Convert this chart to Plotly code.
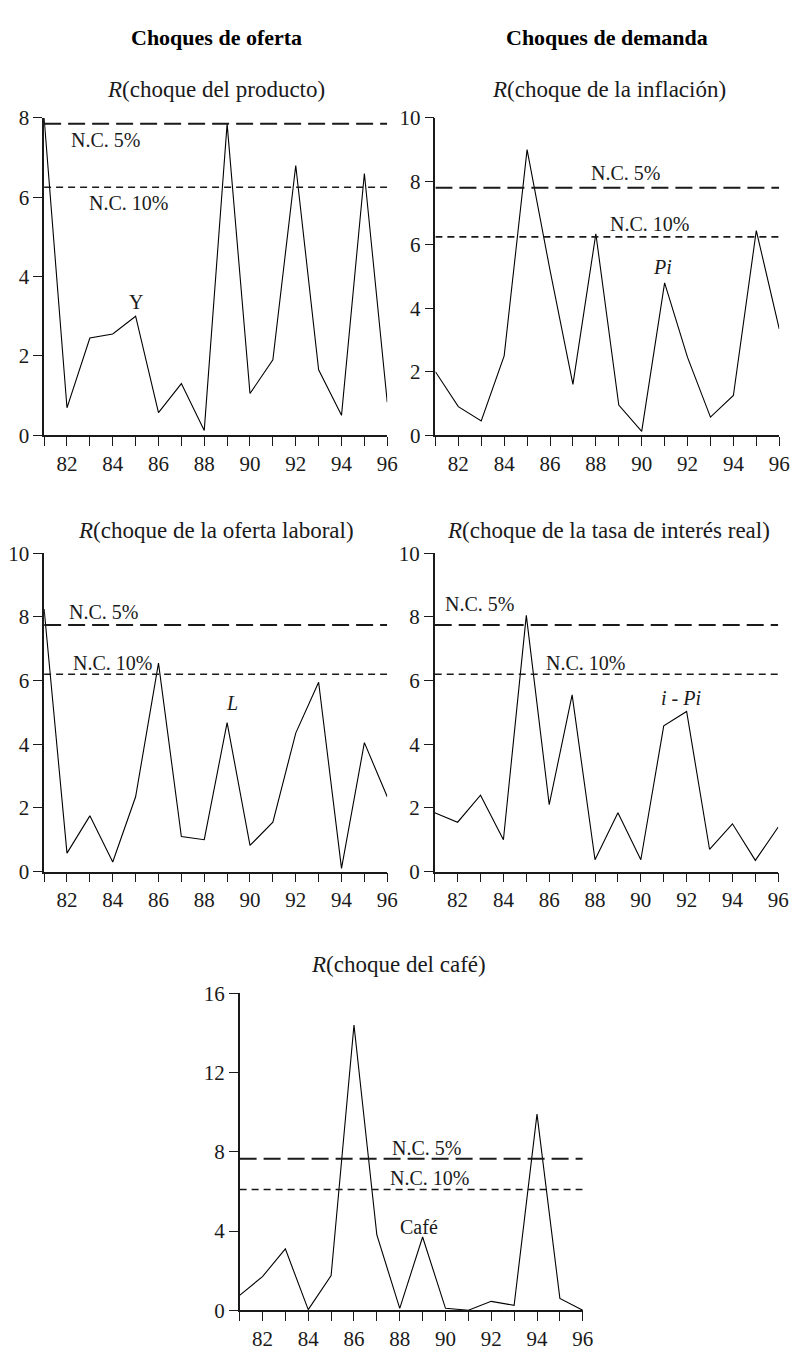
import plotly.graph_objects as go

# ---------------- data ----------------
years = [81, 82, 83, 84, 85, 86, 87, 88, 89, 90, 91, 92, 93, 94, 95, 96]
tick_years = [82, 84, 86, 88, 90, 92, 94, 96]
tick_labels = ["82", "84", "86", "88", "90", "92", "94", "96"]

r_producto = [8.0, 0.69, 2.45, 2.55, 3.0, 0.57, 1.3, 0.12, 7.85, 1.05, 1.9, 6.8, 1.65, 0.5, 6.6, 0.83]
r_inflacion = [2.0, 0.9, 0.45, 2.5, 9.0, 5.2, 1.6, 6.35, 0.95, 0.12, 4.8, 2.45, 0.57, 1.25, 6.45, 3.35]
r_oferta_laboral = [8.25, 0.58, 1.75, 0.3, 2.35, 6.55, 1.1, 1.0, 4.68, 0.82, 1.55, 4.35, 5.95, 0.1, 4.05, 2.35]
r_tasa_interes = [1.85, 1.55, 2.4, 1.0, 8.05, 2.1, 5.55, 0.37, 1.85, 0.37, 4.58, 5.03, 0.7, 1.5, 0.35, 1.4]
r_cafe = [0.75, 1.7, 3.1, 0.03, 1.75, 14.4, 3.8, 0.1, 3.7, 0.1, 0.0, 0.45, 0.25, 9.9, 0.6, 0.0]

nc5_values = [7.85, 7.8, 7.75, 7.75, 7.65]
nc10_values = [6.25, 6.25, 6.2, 6.2, 6.1]

titles = [
    "<i>R</i>(choque del producto)",
    "<i>R</i>(choque de la inflación)",
    "<i>R</i>(choque de la oferta laboral)",
    "<i>R</i>(choque de la tasa de interés real)",
    "<i>R</i>(choque del café)",
]
series_labels = ["Y", "<i>Pi</i>", "<i>L</i>", "<i>i</i> - <i>Pi</i>", "Café"]
headers = ["<b>Choques de oferta</b>", "<b>Choques de demanda</b>"]

y_tick_sets = [
    [0, 2, 4, 6, 8],
    [0, 2, 4, 6, 8, 10],
    [0, 2, 4, 6, 8, 10],
    [0, 2, 4, 6, 8, 10],
    [0, 4, 8, 12, 16],
]
y_tops = [8, 10, 10, 10, 16]
series = [r_producto, r_inflacion, r_oferta_laboral, r_tasa_interes, r_cafe]

# ---------------- layout geometry ----------------
PAGE_W, PAGE_H = 803, 1354
OFF = 8  # default body margin of the html page
W, H = PAGE_W - OFF, PAGE_H - OFF
FONT = "Liberation Serif, Times New Roman, serif"
INK = "#1a1a1a"


def px_x(p):
    return (p - OFF) / W


def px_y(p):
    return 1 - (p - OFF) / H


# (x_left, x_right, y_top, y_bottom) in page pixels from top-left
boxes = [
    (41.7, 391.0, 107.7, 430.7),
    (440.0, 790.0, 107.7, 430.7),
    (41.7, 391.0, 551.0, 875.0),
    (439.3, 789.0, 551.0, 875.0),
    (240.7, 590.0, 999.0, 1321.7),
]
title_y_px = [79, 79, 528, 528, 970]
title_x_px = [217, 617, 217, 616, 402]

# label positions (data coords): (nc5 x,y), (nc10 x,y), (series x,y)
label_pos = [
    ((83.7, 7.45), (84.7, 5.86), (85.0, 3.35)),
    ((89.3, 8.25), (90.35, 6.65), (90.9, 5.31)),
    ((83.6, 8.15), (84.0, 6.55), (89.2, 5.3)),
    ((82.96, 8.4), (87.6, 6.55), (91.75, 5.46)),
    ((89.15, 8.2), (89.3, 6.7), (88.86, 4.2)),
]

fig = go.Figure()
annotations = []
layout_axes = {}

for i in range(5):
    xl, xr, yt, yb = boxes[i]
    xs = "" if i == 0 else str(i + 1)
    xref, yref = "x" + xs, "y" + xs

    fig.add_trace(go.Scatter(x=years, y=series[i], mode="lines",
                             line=dict(color="black", width=1.1),
                             xaxis=xref, yaxis=yref, showlegend=False,
                             hoverinfo="skip"))
    fig.add_trace(go.Scatter(x=[years[0], years[-1]], y=[nc5_values[i], nc5_values[i]],
                             mode="lines",
                             line=dict(color=INK, width=2, dash="17px,7px"),
                             xaxis=xref, yaxis=yref, showlegend=False,
                             hoverinfo="skip"))
    fig.add_trace(go.Scatter(x=[years[0], years[-1]], y=[nc10_values[i], nc10_values[i]],
                             mode="lines",
                             line=dict(color=INK, width=1.6, dash="7px,5px"),
                             xaxis=xref, yaxis=yref, showlegend=False,
                             hoverinfo="skip"))

    layout_axes["xaxis" + xs] = dict(
        domain=[px_x(xl), px_x(xr)], anchor=yref, range=[years[0], years[-1]],
        showgrid=False, zeroline=False, showline=True, linecolor=INK, linewidth=1.5,
        tickmode="array", tickvals=tick_years, ticktext=tick_labels,
        ticks="outside", ticklen=9, tickwidth=1.3, tickcolor=INK,
        minor=dict(ticks="outside", ticklen=9, tickwidth=1.3, tickcolor=INK,
                   tickmode="linear", tick0=81, dtick=1, showgrid=False),
        tickfont=dict(family=FONT, size=21, color=INK),
        fixedrange=True,
    )
    layout_axes["yaxis" + xs] = dict(
        domain=[px_y(yb), px_y(yt)], anchor=xref, range=[0, y_tops[i]],
        showgrid=False, zeroline=False, showline=True, linecolor=INK, linewidth=1.5,
        tickmode="array", tickvals=y_tick_sets[i],
        ticks="outside", ticklen=9, tickwidth=1.3, tickcolor=INK,
        tickfont=dict(family=FONT, size=21, color=INK),
        fixedrange=True,
    )

    annotations.append(dict(text=titles[i], xref="paper", yref="paper",
                            x=px_x(title_x_px[i]), y=px_y(title_y_px[i]),
                            xanchor="center", yanchor="middle", showarrow=False,
                            font=dict(family=FONT, size=23, color=INK)))
    (p5, p10, ps) = label_pos[i]
    annotations.append(dict(text="N.C. 5%", xref=xref, yref=yref, x=p5[0], y=p5[1],
                            xanchor="center", yanchor="middle", showarrow=False,
                            font=dict(family=FONT, size=20, color=INK)))
    annotations.append(dict(text="N.C. 10%", xref=xref, yref=yref, x=p10[0], y=p10[1],
                            xanchor="center", yanchor="middle", showarrow=False,
                            font=dict(family=FONT, size=20, color=INK)))
    annotations.append(dict(text=series_labels[i], xref=xref, yref=yref, x=ps[0], y=ps[1],
                            xanchor="center", yanchor="middle", showarrow=False,
                            font=dict(family=FONT, size=20, color=INK)))

for hx, htxt in zip([217, 615], headers):
    annotations.append(dict(text=htxt, xref="paper", yref="paper",
                            x=px_x(hx), y=px_y(26), xanchor="center", yanchor="middle",
                            showarrow=False, font=dict(family=FONT, size=22, color="black")))

fig.update_layout(
    width=W, height=H,
    margin=dict(l=0, r=0, t=0, b=0),
    paper_bgcolor="white", plot_bgcolor="white",
    showlegend=False,
    annotations=annotations,
    **layout_axes,
)

fig.write_html("out.html", config={"displayModeBar": False})
